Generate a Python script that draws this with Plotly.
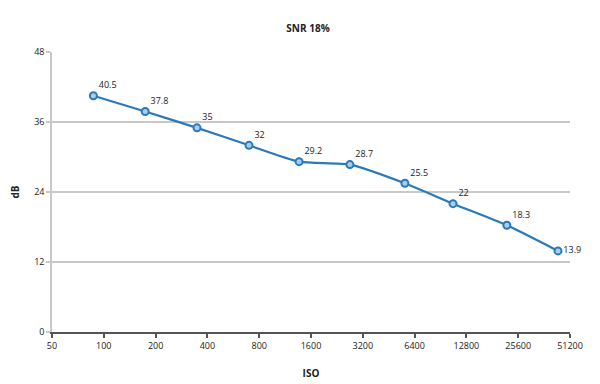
import plotly.graph_objects as go

iso_measured = [87, 174, 348, 698, 1364, 2693, 5620, 10700, 22000, 43600]
snr_db = [40.5, 37.8, 35, 32, 29.2, 28.7, 25.5, 22, 18.3, 13.9]
x_ticks = [50, 100, 200, 400, 800, 1600, 3200, 6400, 12800, 25600, 51200]
y_ticks = [0, 12, 24, 36, 48]
label_pos = ["top right"] * 9 + ["middle right"]

FONT = "Open Sans"
BLUE = "#2a7ab9"

fig = go.Figure()
fig.add_trace(go.Scatter(
    x=iso_measured, y=snr_db,
    mode="lines+markers+text",
    line=dict(color=BLUE, width=2.2, shape="spline", smoothing=0.6),
    marker=dict(symbol="circle", size=7, color="#a9cdee",
                line=dict(color=BLUE, width=2)),
    text=[str(v) for v in snr_db],
    textposition=label_pos,
    textfont=dict(family=FONT, size=9, color="#222"),
    cliponaxis=False,
    showlegend=False,
))

fig.update_layout(
    width=600, height=384,
    margin=dict(l=44, r=38, t=44, b=60, autoexpand=False),
    paper_bgcolor="white", plot_bgcolor="white",
    title=dict(text="<b>SNR 18%</b>", x=0.5, xanchor="center", y=0.946, yanchor="middle",
               font=dict(family=FONT, size=10, color="#222")),
    font=dict(family=FONT, size=9, color="#222"),
)
fig.update_xaxes(
    type="log", range=[1.69897, 4.70927],
    tickvals=x_ticks, ticktext=[str(t) for t in x_ticks],
    showgrid=False, showline=True, linecolor="#555", linewidth=1.5,
    ticks="outside", ticklen=4, tickcolor="#555", tickwidth=1.5,
    tickfont=dict(family=FONT, size=9, color="#222"),
    title=dict(text="<b>ISO</b>", font=dict(family=FONT, size=10, color="#222"), standoff=19),
    zeroline=False, automargin=False,
)
fig.update_yaxes(
    range=[0, 48], tickvals=y_ticks,
    showgrid=True, gridcolor="#c8c8c8", gridwidth=1.5,
    showline=True, linecolor="#c8c8c8", linewidth=1.5,
    ticks="outside", ticklen=4, tickcolor="#c8c8c8", tickwidth=1.5,
    tickfont=dict(family=FONT, size=9, color="#222"),
    title=dict(text="<b>dB</b>", font=dict(family=FONT, size=10, color="#222"), standoff=14),
    zeroline=False, automargin=False,
)

fig.write_html("out.html")
